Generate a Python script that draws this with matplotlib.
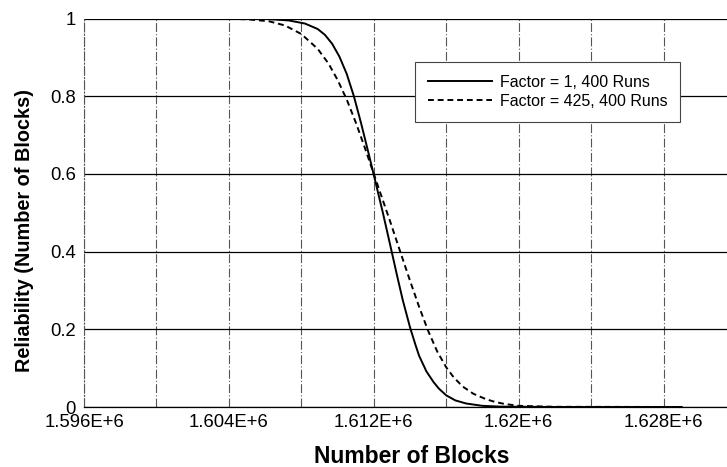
import matplotlib
matplotlib.use("Agg")
import matplotlib.pyplot as plt
from matplotlib.ticker import FixedLocator

plt.rcParams["font.family"] = ["Liberation Sans", "DejaVu Sans"]

# reliability curves (x in millions of blocks)
solid_x = [1.596, 1.600, 1.604, 1.606, 1.6073, 1.6082, 1.6089, 1.6093,
           1.6097, 1.6101, 1.6105, 1.6109, 1.6113, 1.6117, 1.6121, 1.6125,
           1.6129, 1.6133, 1.6136, 1.6140, 1.6143, 1.6145, 1.6149, 1.6153,
           1.6156, 1.6160, 1.6165, 1.6171, 1.6180, 1.619, 1.622, 1.629]
solid_y = [1.0, 1.0, 1.0, 0.999, 0.995, 0.987, 0.973, 0.958,
           0.935, 0.902, 0.858, 0.800, 0.730, 0.655, 0.578, 0.500,
           0.418, 0.335, 0.275, 0.205, 0.160, 0.132, 0.092, 0.064,
           0.047, 0.030, 0.017, 0.009, 0.003, 0.001, 0.0, 0.0]
dashed_x = [1.596, 1.600, 1.603, 1.605, 1.6062, 1.6071, 1.6080, 1.6089,
            1.6095, 1.6100, 1.6105, 1.6110, 1.6115, 1.6120, 1.6125, 1.6129,
            1.6134, 1.6140, 1.6145, 1.6150, 1.6155, 1.6160, 1.6164, 1.6169,
            1.6175, 1.6182, 1.6187, 1.6192, 1.620, 1.622, 1.629]
dashed_y = [1.0, 1.0, 1.0, 0.998, 0.993, 0.982, 0.960, 0.922,
            0.884, 0.842, 0.792, 0.733, 0.668, 0.600, 0.532, 0.478,
            0.408, 0.325, 0.258, 0.196, 0.143, 0.102, 0.077, 0.053,
            0.034, 0.020, 0.013, 0.008, 0.003, 0.0005, 0.0]
labels = ["Factor = 1, 400 Runs", "Factor = 425, 400 Runs"]

x_ticks_m = [1.596, 1.604, 1.612, 1.620, 1.628]
x_tick_labels = ["1.596E+6", "1.604E+6", "1.612E+6", "1.62E+6", "1.628E+6"]
x_grid_m = [1.600, 1.608, 1.616, 1.624]
y_ticks = [0, 0.2, 0.4, 0.6, 0.8, 1]
y_tick_labels = ["0", "0.2", "0.4", "0.6", "0.8", "1"]

fig = plt.figure(figsize=(7.27, 4.67), dpi=100)
ax = fig.add_axes([84 / 727, 1 - 407 / 467, 1 - 84 / 727, (407 - 18.5) / 467])

ax.plot([v * 1e6 for v in solid_x], solid_y, color="black", lw=1.4, label=labels[0])
ax.plot([v * 1e6 for v in dashed_x], dashed_y, color="black", lw=1.4,
        ls=(0, (3, 2)), label=labels[1])

ax.set_xlim(1.596e6, 1.6315e6)
ax.set_ylim(0, 1)

ax.xaxis.set_major_locator(FixedLocator([v * 1e6 for v in x_ticks_m]))
ax.set_xticklabels(x_tick_labels)
ax.xaxis.set_minor_locator(FixedLocator([v * 1e6 for v in x_grid_m]))
ax.set_yticks(y_ticks)
ax.set_yticklabels(y_tick_labels)
ax.tick_params(axis="both", which="both", length=0, labelsize=13.3)
ax.tick_params(axis="x", pad=5)
ax.tick_params(axis="y", pad=6)

ax.grid(axis="y", which="major", color="black", lw=0.9)
ax.grid(axis="x", which="both", color="#555555", lw=0.8, ls=(0, (8, 2, 1, 2)))

for side in ("top", "right"):
    ax.spines[side].set_visible(False)
ax.spines["bottom"].set_linewidth(0.9)
ax.spines["left"].set_linewidth(0.8)
ax.spines["left"].set_linestyle((0, (8, 2, 1, 2)))
ax.spines["left"].set_color("#555555")

ax.set_xlabel("Number of Blocks", fontsize=16.5, weight="bold")
ax.xaxis.set_label_coords((412 - 84) / 643, -(445 - 407) / 388.5)
ax.set_ylabel("Reliability (Number of Blocks)", fontsize=14.3, weight="bold")
ax.yaxis.set_label_coords(-(84 - 34) / 643, (407 - 230) / 388.5)

leg = ax.legend(loc="upper left", bbox_to_anchor=(415 / 727, 1 - 62 / 467),
                bbox_transform=fig.transFigure, borderaxespad=0,
                fontsize=11.5, handlelength=4, handletextpad=0.5,
                fancybox=False, framealpha=1, edgecolor="#444444",
                borderpad=0.8, labelspacing=0.25)
leg.get_frame().set_linewidth(0.8)

fig.savefig("out.png", dpi=100, facecolor="white")
